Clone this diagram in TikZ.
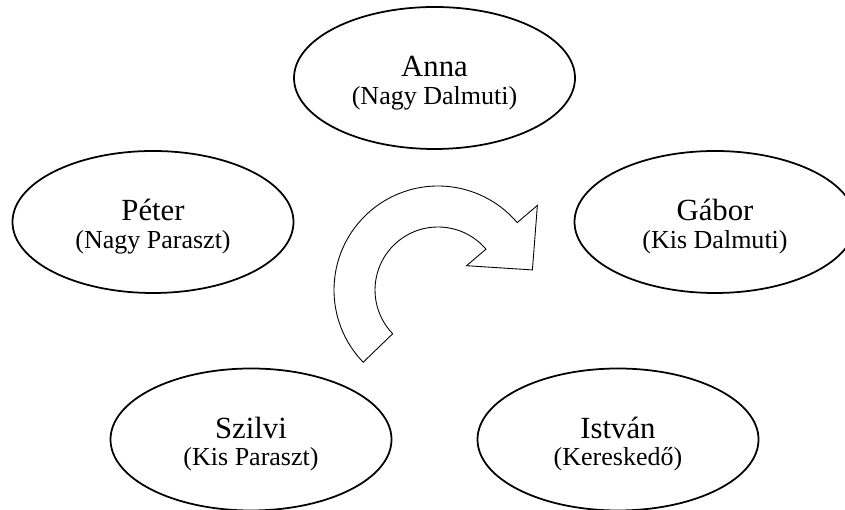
\documentclass[tikz,border=0pt]{standalone}
\usepackage{fontspec}
\setmainfont{Liberation Serif}
\usetikzlibrary{shapes.geometric}

\newcommand{\nevfont}{\fontsize{17.5}{21}\selectfont}
\newcommand{\jatekos}[2]{\rule{0pt}{17.7pt}{\nevfont #1}\\#2\rule[-3.5pt]{0pt}{3.5pt}}

\tikzset{
    player/.style={ellipse, draw, line width=1pt, minimum width=5.62cm,
        minimum height=2.84cm, inner sep=0pt, align=center,
        font=\fontsize{14.8}{15.9}\selectfont},
}

\begin{document}
\begin{tikzpicture}
    \useasboundingbox (0,0) rectangle (16.9,10.2);
    \node[player] at (8.69,8.64) (anna) {\jatekos{Anna}{(Nagy Dalmuti)}};
    \node[player] at (3.06,5.76) (peter) {\jatekos{Péter}{(Nagy Paraszt)}};
    \node[player] at (14.30,5.76) (gabor) {\jatekos{Gábor}{(Kis Dalmuti)}};
    \node[player] at (5.02,1.41) (szilvi) {\jatekos{Szilvi}{(Kis Paraszt)}};
    \node[player] at (12.36,1.41) (istvan) {\jatekos{István}{(Kereskedő)}};
    % korbe mutato nyil
    \draw[line width=0.5pt, fill=white, shift={(8.76,4.40)}]
        (224:1.26) -- (224:2.08) arc[start angle=224, end angle=40.4, radius=2.08]
        -- (40.4:2.61) -- (12:1.93) -- (40.4:0.75) -- (40.4:1.26)
        arc[start angle=40.4, end angle=224, radius=1.26] -- cycle;
\end{tikzpicture}
\end{document}
